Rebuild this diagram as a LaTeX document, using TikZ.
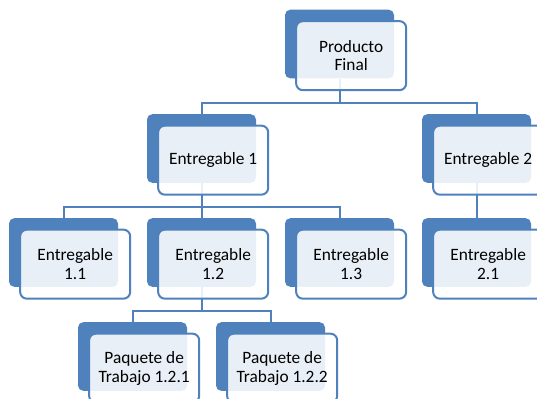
\documentclass[tikz,border=0pt]{standalone}
\usepackage{fontspec}
\setmainfont{Carlito}
\usetikzlibrary{backgrounds}
\definecolor{wbsblue}{HTML}{4F81BD}

\begin{document}
\begin{tikzpicture}[x=0.75pt, y=-0.75pt,
  bk/.style={
    rectangle, rounded corners=4pt, fill=wbsblue,
    minimum width=81.75pt, minimum height=51.5pt, inner sep=0pt},
  fr/.style={
    rectangle, rounded corners=5pt,
    draw=wbsblue, line width=1.5pt, fill=white, fill opacity=0.88, text opacity=1,
    minimum width=82.5pt, minimum height=51.75pt, inner sep=0pt,
    align=center, font=\fontsize{13}{14}\selectfont,
    xshift=8.75pt, yshift=-8.75pt},
  ln/.style={wbsblue, line width=1.5pt},
]
  \useasboundingbox (0,0) rectangle (537,399);

  % dark blocks behind
  \node[bk] (pfb)   at (339.5,44)    {};
  \node[bk] (e1b)   at (201.5,148.5) {};
  \node[bk] (e2b)   at (476.5,148.5) {};
  \node[bk] (e11b)  at (63.5,252.5)  {};
  \node[bk] (e12b)  at (201.5,252.5) {};
  \node[bk] (e13b)  at (339.5,252.5) {};
  \node[bk] (e21b)  at (476.5,252.5) {};
  \node[bk] (p121b) at (132.5,356.5) {};
  \node[bk] (p122b) at (270.5,356.5) {};

  % text boxes in front
  \node[fr] (pf)   at (pfb)   {Producto\\Final};
  \node[fr] (e1)   at (e1b)   {Entregable 1};
  \node[fr] (e2)   at (e2b)   {Entregable 2};
  \node[fr] (e11)  at (e11b)  {Entregable\\1.1};
  \node[fr] (e12)  at (e12b)  {Entregable\\1.2};
  \node[fr] (e13)  at (e13b)  {Entregable\\1.3};
  \node[fr] (e21)  at (e21b)  {Entregable\\2.1};
  \node[fr] (p121) at (p121b) {Paquete de\\Trabajo 1.2.1};
  \node[fr] (p122) at (p122b) {Paquete de\\Trabajo 1.2.2};

  \begin{scope}[on background layer]
    \draw[ln] (pfb.south) -- ++(0,24) -| (e1b.north);
    \draw[ln] (pfb.south) -- ++(0,24) -| (e2b.north);
    \draw[ln] (e1b.south) -- ++(0,24) -| (e11b.north);
    \draw[ln] (e1b.south) -- ++(0,24) -| (e12b.north);
    \draw[ln] (e1b.south) -- ++(0,24) -| (e13b.north);
    \draw[ln] (e2b.south) -- (e21b.north);
    \draw[ln] (e12b.south) -- ++(0,24) -| (p121b.north);
    \draw[ln] (e12b.south) -- ++(0,24) -| (p122b.north);
  \end{scope}
\end{tikzpicture}
\end{document}
